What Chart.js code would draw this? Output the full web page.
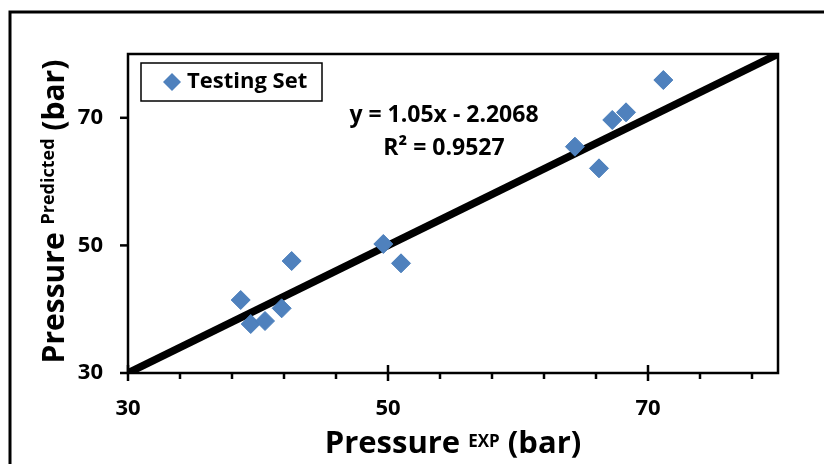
<!DOCTYPE html>
<html>
<head>
<meta charset="utf-8">
<script src="https://cdn.jsdelivr.net/npm/chart.js@4.4.1/dist/chart.umd.min.js"></script>
<style>
  html, body { margin: 0; padding: 0; background: #fff; }
  #wrap { width: 824px; height: 464px; position: relative; overflow: hidden; }
</style>
</head>
<body>
<div id="wrap"><canvas id="chart" width="824" height="464"></canvas></div>
<script>
// ── values ──
const EXP_X  = [38.67, 39.44, 40.54, 41.82, 42.59, 49.64, 51.0, 64.38, 66.23, 67.25, 68.31, 71.18];
const PRED_Y = [41.44, 37.68, 38.15, 40.14, 47.55, 50.22, 47.19, 65.47, 62.08, 69.66, 70.86, 75.92];
const LINE_X = [30, 80];
const LINE_Y = [30, 80];
const X_TICKS  = [30, 34, 38, 42, 46, 50, 54, 58, 62, 66, 70, 74, 78];
const X_LABELS = [30, 50, 70];
const Y_TICKS  = [30, 50, 70];
const AXIS_MIN = 30, AXIS_MAX = 80;
const SERIES_NAME = 'Testing Set';
const EQUATION = 'y = 1.05x - 2.2068';
const R2_TEXT  = 'R² = 0.9527';

const FONT = '"Open Sans", "Noto Sans", sans-serif';
const BLUE = '#4F81BD';

// draw a row of text pieces (some smaller / raised), centred on cx
function drawRuns(ctx, runs, cx, baseline) {
  let total = 0;
  runs.forEach(r => {
    ctx.font = `bold ${r.size}px ${FONT}`;
    r.w = ctx.measureText(r.t).width;
    total += r.w;
  });
  let x = cx - total / 2;
  ctx.textAlign = 'left';
  ctx.textBaseline = 'alphabetic';
  runs.forEach(r => {
    ctx.font = `bold ${r.size}px ${FONT}`;
    ctx.fillText(r.t, x, baseline - (r.rise || 0));
    x += r.w;
  });
}

const decor = {
  id: 'decor',
  afterDraw(chart) {
    const { ctx, chartArea: a, scales: { x, y } } = chart;
    ctx.save();
    ctx.strokeStyle = '#000';
    ctx.fillStyle = '#000';

    // outer frame (runs past the right / bottom edge)
    ctx.lineWidth = 3;
    ctx.strokeRect(10, 12, 900, 600);

    // plot border
    ctx.lineWidth = 2.5;
    ctx.strokeRect(a.left, a.top, a.right - a.left, a.bottom - a.top);

    // tick marks
    X_TICKS.forEach(v => {
      const px = x.getPixelForValue(v);
      const major = X_LABELS.includes(v);
      ctx.beginPath();
      ctx.moveTo(px, a.bottom - (major ? 8 : 0));
      ctx.lineTo(px, a.bottom + (major ? 8 : 6));
      ctx.stroke();
    });
    Y_TICKS.forEach(v => {
      const py = y.getPixelForValue(v);
      ctx.beginPath();
      ctx.moveTo(a.left - 8, py);
      ctx.lineTo(a.left, py);
      ctx.stroke();
    });

    // legend box
    ctx.lineWidth = 1.5;
    ctx.fillStyle = '#fff';
    ctx.fillRect(141, 63, 181, 38);
    ctx.strokeRect(141, 63, 181, 38);
    ctx.fillStyle = BLUE;
    ctx.beginPath();
    ctx.moveTo(172, 82 - 9); ctx.lineTo(172 + 9, 82);
    ctx.lineTo(172, 82 + 9); ctx.lineTo(172 - 9, 82);
    ctx.closePath(); ctx.fill();
    ctx.fillStyle = '#000';
    ctx.font = `bold 22px ${FONT}`;
    ctx.textAlign = 'left';
    ctx.textBaseline = 'middle';
    ctx.fillText(SERIES_NAME, 187, 82);

    // regression text
    ctx.textAlign = 'center';
    ctx.font = `bold 23px ${FONT}`;
    ctx.fillText(EQUATION, 444, 115);
    ctx.fillText(R2_TEXT, 444, 148);

    // axis titles
    drawRuns(ctx, [
      { t: 'Pressure ', size: 31 },
      { t: 'EXP', size: 17, rise: 6 },
      { t: ' (bar)', size: 31 }
    ], (a.left + a.right) / 2, 453);

    ctx.save();
    ctx.translate(64, (a.top + a.bottom) / 2 - 2);
    ctx.rotate(-Math.PI / 2);
    drawRuns(ctx, [
      { t: 'Pressure ', size: 30 },
      { t: 'Predicted', size: 18, rise: 10 },
      { t: ' (bar)', size: 30 }
    ], 0, 0);
    ctx.restore();

    ctx.restore();
  }
};

const tickFont = { family: FONT, size: 22, weight: 'bold' };

new Chart(document.getElementById('chart'), {
  type: 'scatter',
  data: {
    datasets: [
      {
        label: SERIES_NAME,
        data: EXP_X.map((v, i) => ({ x: v, y: PRED_Y[i] })),
        pointStyle: 'rectRot',
        pointRadius: 9.5,
        backgroundColor: BLUE,
        borderColor: '#4A7EBB',
        borderWidth: 1,
        order: 1
      },
      {
        label: 'y = x',
        data: LINE_X.map((v, i) => ({ x: v, y: LINE_Y[i] })),
        showLine: true,
        borderColor: '#000',
        borderWidth: 7.5,
        pointRadius: 0,
        clip: 0,
        order: 2
      }
    ]
  },
  options: {
    responsive: false,
    devicePixelRatio: 1,
    animation: false,
    layout: { padding: { top: 54, right: 46, left: 0, bottom: 0 } },
    plugins: {
      legend: { display: false },
      tooltip: { enabled: false }
    },
    scales: {
      x: {
        type: 'linear',
        min: AXIS_MIN, max: AXIS_MAX,
        afterBuildTicks: s => { s.ticks = X_LABELS.map(v => ({ value: v })); },
        afterFit: s => { s.height = 91; },
        grid: { display: false, drawTicks: false },
        border: { display: false },
        ticks: { font: tickFont, color: '#000', padding: 23, autoSkip: false, maxRotation: 0 }
      },
      y: {
        type: 'linear',
        min: AXIS_MIN, max: AXIS_MAX,
        afterBuildTicks: s => { s.ticks = Y_TICKS.map(v => ({ value: v })); },
        afterFit: s => { s.width = 128; },
        grid: { display: false, drawTicks: false },
        border: { display: false },
        ticks: { font: tickFont, color: '#000', padding: 25, autoSkip: false }
      }
    }
  },
  plugins: [decor]
});
</script>
</body>
</html>
